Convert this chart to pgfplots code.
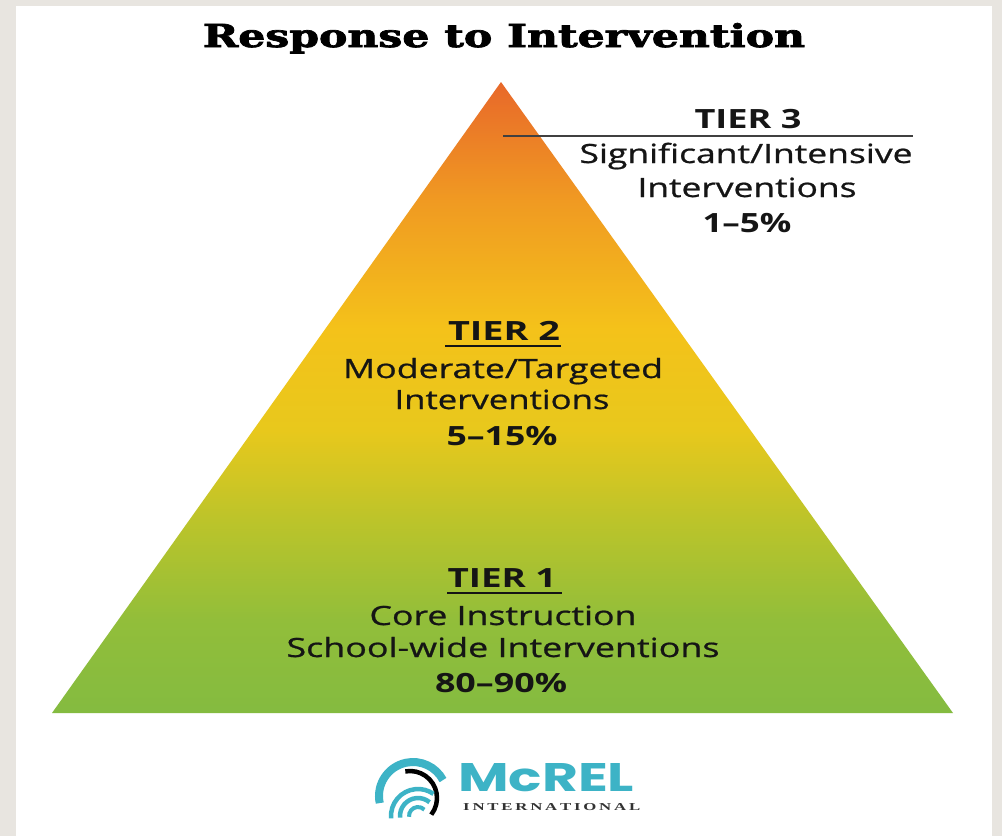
\documentclass[border=0pt]{standalone}
\usepackage{pgfplots}
\pgfplotsset{compat=1.18}
\usepackage{graphicx}
\usepackage{fontspec}
\setmainfont{Open Sans}
\newfontfamily\medfont{Open Sans}[FakeBold=0.7]
\newfontfamily\titlefont{DejaVu Serif}[BoldFeatures={FakeBold=2.2}]
\newfontfamily\logofont{Poppins}
\newfontfamily\intlfont{Liberation Serif}
\definecolor{bggray}{HTML}{E8E5E0}
\definecolor{c0}{HTML}{84BB40}
\definecolor{c1}{HTML}{92BE3A}
\definecolor{c2}{HTML}{BCC42A}
\definecolor{c3}{HTML}{E8C81C}
\definecolor{c4}{HTML}{F4C21A}
\definecolor{c5}{HTML}{F09A22}
\definecolor{c6}{HTML}{E8682A}
\definecolor{teal}{HTML}{3DB3C6}
\definecolor{ink}{HTML}{151515}
\pgfdeclareverticalshading{rti}{100bp}{color(0bp)=(c0); color(25bp)=(c0); color(32.4bp)=(c1); color(40.3bp)=(c2); color(47.4bp)=(c3); color(55.4bp)=(c4); color(65.6bp)=(c5); color(75bp)=(c6); color(100bp)=(c6)}
\newcommand\fw[2]{\resizebox{#1pt}{\height}{#2}}
\tikzset{
  tx/.style={anchor=base,inner sep=0pt,text=ink,font=\fontsize{26.5}{30}\medfont},
  tb/.style={anchor=base,inner sep=0pt,text=ink,font=\fontsize{26.5}{30}\selectfont\bfseries}}
\begin{document}
\begin{tikzpicture}
\begin{axis}[width=1002pt,height=836pt,scale only axis,hide axis,
  xmin=0,xmax=1002,ymin=0,ymax=836,y dir=reverse,clip=false]
% background
\fill[bggray] (axis cs:0,0) rectangle (axis cs:1002,836);
\fill[white] (axis cs:16,6) rectangle (axis cs:992,836);
% pyramid
\addplot[draw=none,shade,shading=rti] coordinates {(52,713) (501,82) (953,713)} -- cycle;
% title
\node[anchor=base,inner sep=0pt] at (axis cs:504,47) {\resizebox{602pt}{24pt}{\titlefont\bfseries Response to Intervention}};
% tier 3
\draw[line width=2.6pt,color=black!75] (axis cs:503,136) -- (axis cs:913,136);
\node[tb] at (axis cs:748,128) {\fw{107}{TIER 3}};
\node[tx] at (axis cs:746,163) {\fw{333}{Significant/Intensive}};
\node[tx] at (axis cs:747,197) {\fw{219}{Interventions}};
\node[tb] at (axis cs:747,232) {\fw{89}{1–5\%}};
% tier 2
\node[tb] at (axis cs:504,340) {\fw{112}{TIER 2}};
\draw[line width=2.2pt,color=ink] (axis cs:445,346) -- (axis cs:561,346);
\node[tx] at (axis cs:503,378) {\fw{320}{Moderate/Targeted}};
\node[tx] at (axis cs:502,409) {\fw{215}{Interventions}};
\node[tb] at (axis cs:502,445) {\fw{111}{5–15\%}};
% tier 1
\node[tb] at (axis cs:502,587) {\fw{109}{TIER 1}};
\draw[line width=2.2pt,color=ink] (axis cs:447,593) -- (axis cs:562,593);
\node[tx] at (axis cs:503,625) {\fw{267}{Core Instruction}};
\node[tx] at (axis cs:503,657) {\fw{433}{School-wide Interventions}};
\node[tb] at (axis cs:501,692) {\fw{132}{80–90\%}};
% logo
\draw[teal,line width=8pt] ([shift={(192:34pt)}]axis cs:413,796) arc[start angle=192,end angle=28,radius=34pt];
\draw[black,line width=4.5pt] ([shift={(100:27pt)}]axis cs:410,798) arc[start angle=100,end angle=-38,radius=27pt];
\draw[teal,line width=4.5pt] ([shift={(185:27pt)}]axis cs:418,816) arc[start angle=185,end angle=55,radius=27pt];
\draw[teal,line width=4.5pt] ([shift={(185:18pt)}]axis cs:418,816) arc[start angle=185,end angle=50,radius=18pt];
\draw[teal,line width=4pt] ([shift={(185:9pt)}]axis cs:418,816) arc[start angle=185,end angle=45,radius=9pt];
\node[anchor=base west,inner sep=0pt] at (axis cs:458,791) {\resizebox{176pt}{28pt}{\color{teal}\logofont\bfseries McREL}};
\node[anchor=base west,inner sep=0pt] at (axis cs:463,810) {\resizebox{177pt}{7pt}{\color{black!80}\intlfont\bfseries I\,N\,T\,E\,R\,N\,A\,T\,I\,O\,N\,A\,L}};
\end{axis}
\end{tikzpicture}
\end{document}
